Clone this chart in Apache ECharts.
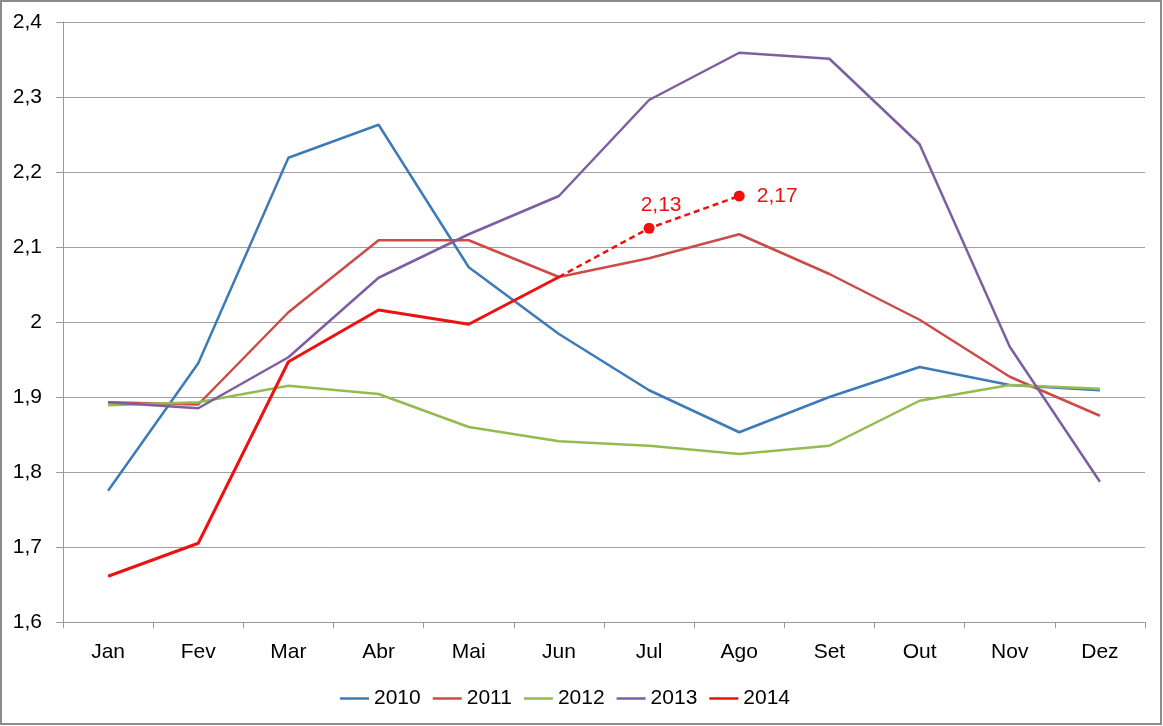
<!DOCTYPE html>
<html>
<head>
<meta charset="utf-8">
<script src="https://cdn.jsdelivr.net/npm/echarts@6/dist/echarts.min.js"></script>
<style>
html,body{margin:0;padding:0;background:#fff;}
#chart{width:1163px;height:726px;}
</style>
</head>
<body>
<div id="chart"></div>
<script>
const categories = ['Jan','Fev','Mar','Abr','Mai','Jun','Jul','Ago','Set','Out','Nov','Dez'];
const s2010 = [1.775,1.945,2.219,2.263,2.073,1.984,1.909,1.853,1.900,1.940,1.916,1.909];
const s2011 = [1.893,1.890,2.013,2.109,2.109,2.060,2.085,2.117,2.064,2.003,1.927,1.875];
const s2012 = [1.889,1.893,1.915,1.904,1.860,1.841,1.835,1.824,1.835,1.895,1.916,1.911];
const s2013 = [1.893,1.885,1.953,2.059,2.117,2.168,2.296,2.359,2.351,2.237,1.967,1.787];
const s2014 = [1.661,1.705,1.947,2.016,1.997,2.060,null,null,null,null,null,null];
const proj2014 = [null,null,null,null,null,2.060,2.125,2.168,null,null,null,null];
const projLabels = ['','','','','','','2,13','2,17','','','',''];
const yTicks = [1.6,1.7,1.8,1.9,2.0,2.1,2.2,2.3,2.4];

const FONT = '"Liberation Sans", Arial, sans-serif';
const chart = echarts.init(document.getElementById('chart'));

const projData = proj2014.map((v, i) => {
  if (v === null) return null;
  if (i === 5) return { value: v, symbol: 'none' };
  return {
    value: v,
    label: i === 6
      ? { show: true, position: 'top', offset: [12, -2], formatter: projLabels[i] }
      : { show: true, position: 'right', distance: 12, formatter: projLabels[i] }
  };
});

chart.setOption({
  animation: false,
  textStyle: { fontFamily: FONT },
  graphic: [{
    type: 'rect', silent: true,
    shape: { x: 1, y: 1, width: 1160, height: 723 },
    style: { fill: 'none', stroke: '#8c8c8c', lineWidth: 2 }
  }],
  grid: { left: 63, right: 18, top: 22, bottom: 104 },
  legend: {
    left: 335, top: 683,
    itemWidth: 29, itemHeight: 14, itemGap: 12,
    icon: 'path://M0,6 L29,6 L29,8.5 L0,8.5 Z',
    textStyle: { fontSize: 21, color: '#000', fontFamily: FONT },
    data: ['2010','2011','2012','2013','2014']
  },
  xAxis: {
    type: 'category',
    data: categories,
    boundaryGap: true,
    axisLine: { show: true, lineStyle: { color: '#999', width: 1 } },
    axisTick: { show: true, length: 6, lineStyle: { color: '#999' } },
    axisLabel: { fontSize: 21, color: '#000', margin: 20, fontFamily: FONT }
  },
  yAxis: {
    type: 'value',
    min: yTicks[0], max: yTicks[yTicks.length - 1], interval: 0.1,
    axisLine: { show: true, lineStyle: { color: '#999', width: 1 } },
    axisTick: { show: true, length: 7, lineStyle: { color: '#999' } },
    splitLine: { show: true, lineStyle: { color: '#a0a0a0', width: 1 } },
    axisLabel: {
      fontSize: 21, color: '#000', margin: 21, fontFamily: FONT,
      formatter: v => String(+(+v).toFixed(1)).replace('.', ',')
    }
  },
  series: [
    { name: '2010', type: 'line', data: s2010, symbol: 'none', lineStyle: { color: '#3d7ab8', width: 2.5 }, itemStyle: { color: '#3d7ab8' } },
    { name: '2011', type: 'line', data: s2011, symbol: 'none', lineStyle: { color: '#cc4b47', width: 2.5 }, itemStyle: { color: '#cc4b47' } },
    { name: '2012', type: 'line', data: s2012, symbol: 'none', lineStyle: { color: '#93bb50', width: 2.5 }, itemStyle: { color: '#93bb50' } },
    { name: '2013', type: 'line', data: s2013, symbol: 'none', lineStyle: { color: '#7d5ea3', width: 2.5 }, itemStyle: { color: '#7d5ea3' } },
    { name: '2014', type: 'line', data: s2014, symbol: 'none', lineStyle: { color: '#ee1111', width: 3 }, itemStyle: { color: '#ee1111' } },
    {
      name: 'proj', type: 'line', data: projData,
      symbol: 'circle', symbolSize: 11, showSymbol: true,
      lineStyle: { color: '#ee1111', width: 2.5, type: [6, 4] },
      itemStyle: { color: '#ee1111' },
      label: { color: '#ee1111', fontSize: 21, fontFamily: FONT },
      z: 5
    }
  ]
});
</script>
</body>
</html>
